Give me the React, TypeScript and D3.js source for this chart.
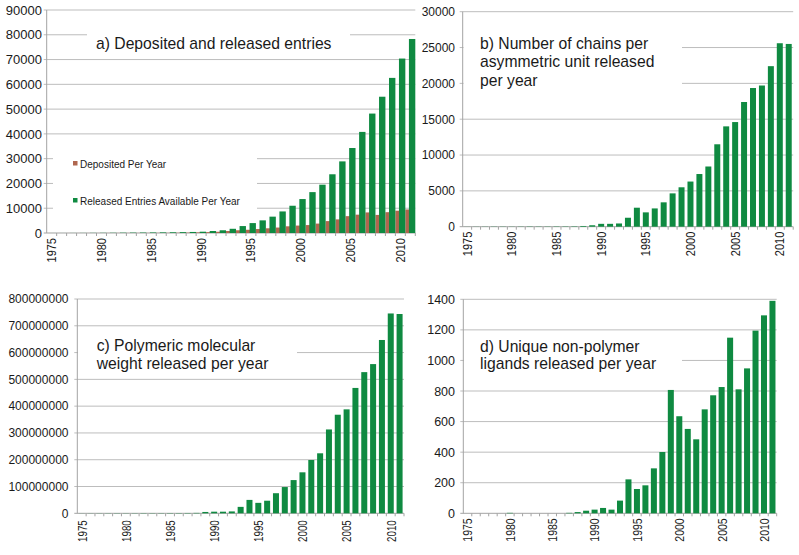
import React from 'react';
import * as d3 from 'd3';

// ---- data -------------------------------------------------------------
const years = [
  1975, 1976, 1977, 1978, 1979, 1980, 1981, 1982, 1983, 1984, 1985, 1986,
  1987, 1988, 1989, 1990, 1991, 1992, 1993, 1994, 1995, 1996, 1997, 1998,
  1999, 2000, 2001, 2002, 2003, 2004, 2005, 2006, 2007, 2008, 2009, 2010, 2011,
];
const xTickLabels = [1975, 1980, 1985, 1990, 1995, 2000, 2005, 2010];

const depositedPerYear = [
  5, 5, 10, 15, 20, 20, 25, 30, 30, 30, 40, 50,
  60, 100, 150, 250, 350, 500, 800, 1100, 1300, 1600, 1900, 2200,
  2700, 3000, 3200, 3800, 4800, 5500, 6800, 7400, 8300, 7300, 8400, 9000, 9500,
];
const releasedAvailablePerYear = [
  10, 13, 23, 36, 53, 69, 87, 123, 152, 177, 214, 250,
  290, 350, 420, 520, 800, 1100, 1700, 2800, 4000, 5100, 6600, 8700,
  11000, 13700, 16500, 19500, 23700, 28900, 34300, 40800, 48200, 55000, 62600, 70400, 78300,
];
const chainsPerYear = [
  10, 15, 20, 25, 25, 20, 25, 35, 30, 30, 40, 40,
  50, 100, 200, 400, 400, 450, 1250, 2650, 2000, 2550, 3400, 4650,
  5500, 6300, 7350, 8400, 11500, 14000, 14600, 17400, 19350, 19700, 22400, 25600, 25500,
];
const molWeightPerYear = [
  300000, 400000, 500000, 600000, 700000, 600000, 700000, 900000, 800000, 800000, 1000000, 1000000,
  1200000, 1500000, 5000000, 6000000, 6000000, 7000000, 24000000, 50000000, 39000000, 47000000, 75000000, 98000000,
  124000000, 153000000, 199000000, 224000000, 313000000, 368000000, 388000000, 468000000, 527000000, 557000000, 647000000, 746000000, 744000000,
];
const ligandsPerYear = [
  0, 0, 0, 0, 0, 3, 0, 0, 0, 0, 0, 0,
  3, 8, 17, 24, 35, 24, 83, 222, 159, 183, 294, 401,
  807, 635, 552, 484, 680, 772, 826, 1149, 811, 948, 1195, 1295, 1390,
];

const legendLabels = ['Deposited Per Year', 'Released Entries Available Per Year'];

// ---- styles -----------------------------------------------------------
const GREEN = '#0f8a41';
const RED = '#b0674f';
const GRID = '#bdbdbd';
const AXIS = '#a3a3a3';
const TEXT = '#1a1a1a';
const FONT = '"Liberation Sans", Arial, Helvetica, sans-serif';

type Series = { values: number[]; color: string; offset: number; width: number };
type Mask = { x0: number; x1: number; y0: number; y1: number };

type PanelProps = {
  left: number;
  right: number;
  top: number;
  bottom: number;
  yMax: number;
  yTickCount: number;
  labelRight: number;
  yLabelSize: number;
  series: Series[];
  masks: Mask[];
  titleLines: string[];
  titleX: number;
  titleY: number;
  lineH: number;
  xLabelGap: number;
  xLabelSize: number;
  xLabelStretch: number;
  children?: React.ReactNode;
};

function Panel(p: PanelProps) {
  const x = d3.scaleBand<number>().domain(years).range([p.left, p.right]).padding(0);
  const y = d3.scaleLinear().domain([0, p.yMax]).range([p.bottom, p.top]);
  const yTicks = y.ticks(p.yTickCount);
  const bw = x.bandwidth();
  const fmt = d3.format('d');
  return (
    <g>
      {yTicks.map((t) => (
        <line key={'g' + t} x1={p.left - 3} x2={p.right} y1={y(t)} y2={y(t)}
          stroke={t === 0 ? AXIS : GRID} strokeWidth={1} />
      ))}
      {p.masks.map((m, i) => (
        <rect key={'m' + i} x={m.x0} y={m.y0} width={m.x1 - m.x0} height={m.y1 - m.y0} fill="#fff" />
      ))}
      <line x1={p.left} x2={p.left} y1={p.top} y2={p.bottom} stroke={AXIS} strokeWidth={1} />
      {years.map((yr) => (
        <line key={'t' + yr} x1={(x(yr) as number) + bw} x2={(x(yr) as number) + bw}
          y1={p.bottom} y2={p.bottom + 3} stroke={AXIS} strokeWidth={1} />
      ))}
      {p.series.map((s, si) =>
        years.map((yr, i) => {
          const v = s.values[i];
          const h = p.bottom - y(v);
          if (h <= 0) return null;
          return (
            <rect key={si + '-' + yr} x={(x(yr) as number) + s.offset * bw} y={y(v)}
              width={s.width * bw} height={h} fill={s.color} />
          );
        })
      )}
      {yTicks.map((t) => (
        <text key={'l' + t} x={p.labelRight} y={y(t)} dy="0.36em" textAnchor="end"
          fontSize={p.yLabelSize} fontFamily={FONT} fill={TEXT}>{fmt(t)}</text>
      ))}
      {xTickLabels.map((yr) => {
        const cx = (x(yr) as number) + bw / 2;
        const cy = p.bottom + p.xLabelGap;
        return (
          <text key={'x' + yr}
            transform={`translate(${cx},${cy}) rotate(-90) scale(${p.xLabelStretch},1)`}
            dy="0.36em" textAnchor="end" fontSize={p.xLabelSize} fontFamily={FONT}
            fill={TEXT}>{yr}</text>
        );
      })}
      {p.titleLines.map((ln, i) => (
        <text key={'ti' + i} x={p.titleX} y={p.titleY + i * p.lineH} fontSize={15.7}
          fontFamily={FONT} fill={TEXT}>{ln}</text>
      ))}
      {p.children}
    </g>
  );
}

export default function App() {
  return (
    <svg width={799} height={555} style={{ position: 'absolute', left: 0, top: 0, background: '#fff' }}>
      <rect x={0} y={0} width={799} height={555} fill="#fff" />
      {/* a */}
      <Panel left={46.7} right={415.3} top={10} bottom={233} yMax={90000} yTickCount={9}
        labelRight={42} yLabelSize={13} xLabelGap={5} xLabelSize={12.5} xLabelStretch={0.88}
        series={[
          { values: depositedPerYear, color: RED, offset: 0, width: 0.45 },
          { values: releasedAvailablePerYear, color: GREEN, offset: 0.36, width: 0.64 },
        ]}
        masks={[
          { x0: 87, x1: 350, y0: 24, y1: 54 },
          { x0: 53, x1: 257, y0: 146, y1: 214 },
        ]}
        titleLines={['a) Deposited and released entries']} titleX={96} titleY={48.5} lineH={18}>
        <rect x={73} y={161} width={4.5} height={4.5} fill={RED} />
        <text x={80} y={167.5} fontSize={10} fontFamily={FONT} fill={TEXT}>{legendLabels[0]}</text>
        <rect x={73} y={198} width={4.5} height={4.5} fill={GREEN} />
        <text x={80} y={204.5} fontSize={10} fontFamily={FONT} fill={TEXT}>{legendLabels[1]}</text>
      </Panel>
      {/* b */}
      <Panel left={462.7} right={793.2} top={11.7} bottom={226.7} yMax={30000} yTickCount={6}
        labelRight={455} yLabelSize={12} xLabelGap={5} xLabelSize={12.5} xLabelStretch={0.88}
        series={[{ values: chainsPerYear, color: GREEN, offset: 0.165, width: 0.67 }]}
        masks={[{ x0: 463.5, x1: 682, y0: 30, y1: 92 }]}
        titleLines={['b) Number of chains per', 'asymmetric unit released', 'per year']}
        titleX={480} titleY={49} lineH={18.3} />
      {/* c */}
      <Panel left={77.3} right={404} top={299} bottom={513.3} yMax={800000000} yTickCount={8}
        labelRight={68.5} yLabelSize={12} xLabelGap={7} xLabelSize={13.5} xLabelStretch={0.72}
        series={[{ values: molWeightPerYear, color: GREEN, offset: 0.16, width: 0.68 }]}
        masks={[{ x0: 78, x1: 297, y0: 334, y1: 374 }]}
        titleLines={['c) Polymeric molecular', 'weight released per year']}
        titleX={96.7} titleY={351.3} lineH={17.6} />
      {/* d */}
      <Panel left={463.3} right={776.7} top={299.3} bottom={513.3} yMax={1400} yTickCount={7}
        labelRight={455} yLabelSize={12.5} xLabelGap={5} xLabelSize={13.5} xLabelStretch={0.78}
        series={[{ values: ligandsPerYear, color: GREEN, offset: 0.145, width: 0.71 }]}
        masks={[{ x0: 464, x1: 682, y0: 336, y1: 374 }]}
        titleLines={['d) Unique non-polymer', 'ligands released per year']}
        titleX={480} titleY={351.7} lineH={17.6} />
    </svg>
  );
}
